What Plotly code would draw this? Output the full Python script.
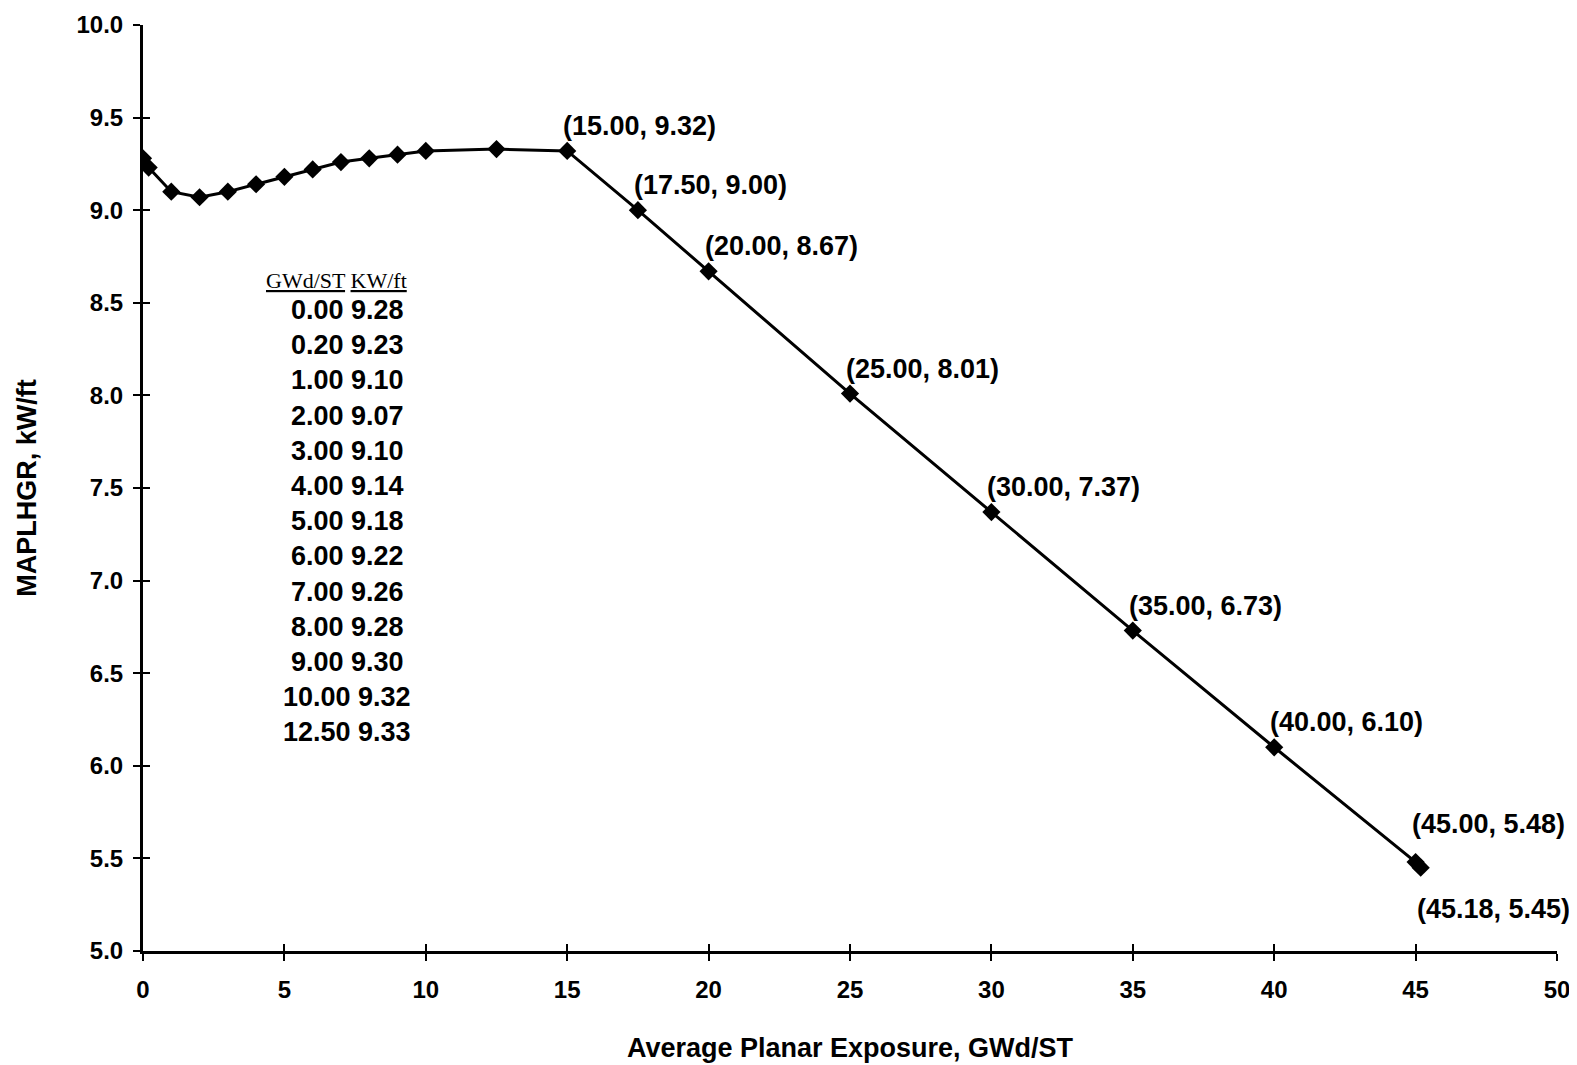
import plotly.graph_objects as go

# Data
exposure = [0.00, 0.20, 1.00, 2.00, 3.00, 4.00, 5.00, 6.00, 7.00, 8.00, 9.00, 10.00, 12.50,
            15.00, 17.50, 20.00, 25.00, 30.00, 35.00, 40.00, 45.00, 45.18]
maplhgr = [9.28, 9.23, 9.10, 9.07, 9.10, 9.14, 9.18, 9.22, 9.26, 9.28, 9.30, 9.32, 9.33,
           9.32, 9.00, 8.67, 8.01, 7.37, 6.73, 6.10, 5.48, 5.45]
table_header = ["GWd/ST", "KW/ft"]
x_title = "Average Planar Exposure, GWd/ST"
y_title = "MAPLHGR, kW/ft"

FONT = "Liberation Sans"

fig = go.Figure()
fig.add_trace(go.Scatter(
    x=exposure, y=maplhgr, mode="lines+markers",
    line=dict(color="black", width=3),
    marker=dict(symbol="diamond", size=14, color="black"),
    showlegend=False, hoverinfo="x+y",
))
# invisible helper trace so the overlay (inside-tick) axes are drawn
fig.add_trace(go.Scatter(
    x=exposure, y=maplhgr, xaxis="x2", yaxis="y2", mode="lines",
    line=dict(width=0, color="rgba(0,0,0,0)"), showlegend=False, hoverinfo="skip",
))

# coordinate labels for the linear section
for i, (xv, yv) in enumerate(zip(exposure, maplhgr)):
    if xv < 15:
        continue
    label = f"({xv:.2f}, {yv:.2f})"
    if i == len(exposure) - 1:
        ys = -41
    elif i == len(exposure) - 2:
        ys = 38
    else:
        ys = 25
    fig.add_annotation(x=xv, y=yv, text=label, showarrow=False,
                       xanchor="left", yanchor="middle", xshift=-6, yshift=ys,
                       font=dict(family=FONT, size=27, color="black", weight="bold"))

# embedded table of the low-exposure points
fig.add_annotation(
    xref="paper", yref="paper", x=0.137, y=(951 - 280) / 926,
    text=f"<u>{table_header[0]}</u> <u>{table_header[1]}</u>",
    showarrow=False, xanchor="center", yanchor="middle",
    font=dict(family="Liberation Serif", size=22, color="black"))
rows = [(xv, yv) for xv, yv in zip(exposure, maplhgr) if xv <= 12.5]
for r, (xv, yv) in enumerate(rows):
    py = 310 + 35.2 * r
    fig.add_annotation(
        xref="paper", yref="paper", x=0.1443, y=(951 - py) / 926,
        text=f"{xv:.2f} {yv:.2f}", showarrow=False,
        xanchor="center", yanchor="middle",
        font=dict(family=FONT, size=27, color="black", weight="bold"))

axis_common = dict(showgrid=False, zeroline=False, color="black", automargin=False)
fig.update_layout(
    width=1577, height=1065,
    paper_bgcolor="white", plot_bgcolor="white",
    margin=dict(l=135, r=28, t=17, b=122),
    xaxis=dict(range=[0, 50], dtick=5, tick0=0, showline=True, linewidth=3, linecolor="black",
               ticks="outside", ticklen=7, tickwidth=2, tickcolor="black",
               ticklabelstandoff=8,
               tickfont=dict(family=FONT, size=24, color="black", weight="bold"),
               title=dict(text=x_title, standoff=37,
                          font=dict(family=FONT, size=27, color="black", weight="bold")),
               **axis_common),
    yaxis=dict(range=[5, 10], dtick=0.5, tick0=5, tickformat=".1f", showline=True, linewidth=3,
               linecolor="black", ticks="outside", ticklen=7, tickwidth=2, tickcolor="black",
               ticklabelstandoff=5,
               tickfont=dict(family=FONT, size=24, color="black", weight="bold"),
               title=dict(text=y_title, standoff=33,
                          font=dict(family=FONT, size=27, color="black", weight="bold")),
               **axis_common),
    xaxis2=dict(overlaying="x", matches="x", anchor="y", side="bottom", range=[0, 50], dtick=5,
                tick0=0, ticks="inside", ticklen=7, tickwidth=2, tickcolor="black",
                showticklabels=False, showline=False, showgrid=False, zeroline=False,
                automargin=False),
    yaxis2=dict(overlaying="y", matches="y", anchor="x", side="left", range=[5, 10], dtick=0.5,
                tick0=5, ticks="inside", ticklen=7, tickwidth=2, tickcolor="black",
                showticklabels=False, showline=False, showgrid=False, zeroline=False,
                automargin=False),
)

fig.write_html("out.html")
